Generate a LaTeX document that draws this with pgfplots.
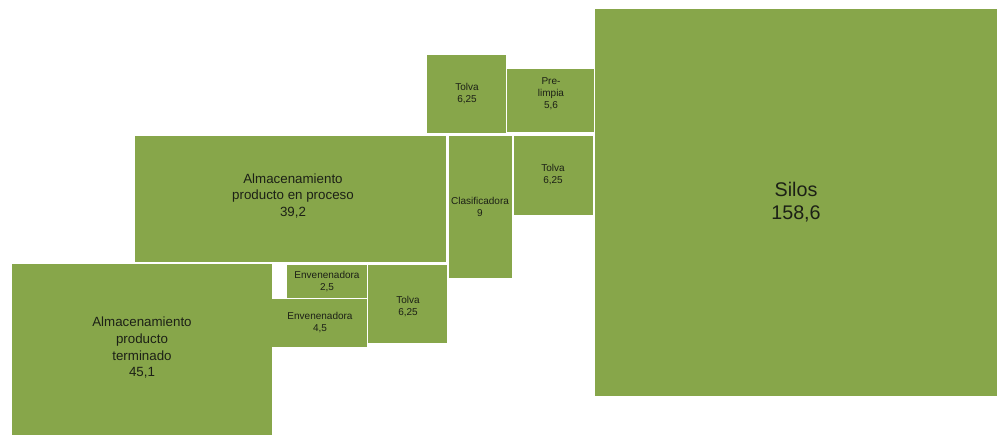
\documentclass[border=0pt]{standalone}
\usepackage{pgfplots}
\pgfplotsset{compat=1.18}
\usepackage{fontspec}
\setmainfont{Liberation Sans}
\definecolor{area}{RGB}{135,166,74}
\definecolor{txt}{RGB}{28,32,22}
\begin{document}
\begin{tikzpicture}
\begin{axis}[
  width=747.75pt, height=326.25pt, scale only axis,
  xmin=0, xmax=997, ymin=0, ymax=435,
  hide axis, clip=false,
]
\path (axis cs:0,0) rectangle (axis cs:997,435);
% Silos
\addplot[fill=area, draw=none] coordinates {(595,426) (997,426) (997,39) (595,39)} -- cycle;
% Tolva (top)
\addplot[fill=area, draw=none] coordinates {(427,380) (506,380) (506,302) (427,302)} -- cycle;
% Pre-limpia
\addplot[fill=area, draw=none] coordinates {(507,366) (594,366) (594,303) (507,303)} -- cycle;
% Almacenamiento producto en proceso
\addplot[fill=area, draw=none] coordinates {(135,299) (446,299) (446,173) (135,173)} -- cycle;
% Clasificadora
\addplot[fill=area, draw=none] coordinates {(449,299) (512,299) (512,157) (449,157)} -- cycle;
% Tolva (middle)
\addplot[fill=area, draw=none] coordinates {(514,299) (593,299) (593,220) (514,220)} -- cycle;
% Almacenamiento producto terminado
\addplot[fill=area, draw=none] coordinates {(12,171) (272,171) (272,0) (12,0)} -- cycle;
% Envenenadora 2,5
\addplot[fill=area, draw=none] coordinates {(287,170) (367,170) (367,137) (287,137)} -- cycle;
% Envenenadora 4,5
\addplot[fill=area, draw=none] coordinates {(272,136) (367,136) (367,88) (272,88)} -- cycle;
% Tolva (bottom)
\addplot[fill=area, draw=none] coordinates {(368,170) (447,170) (447,92) (368,92)} -- cycle;

\begin{scope}[every node/.style={align=center, text=txt, inner sep=0pt}]
\node[font=\fontsize{14.8}{17.25}\selectfont] at (axis cs:796,233) {Silos\\158,6};
\node[font=\fontsize{10}{12.5}\selectfont] at (axis cs:293,239) {Almacenamiento\\producto en proceso\\39,2};
\node[font=\fontsize{10}{12.5}\selectfont] at (axis cs:142,87) {Almacenamiento\\producto\\terminado\\45,1};
\node[font=\fontsize{7.5}{9}\selectfont] at (axis cs:467,341) {Tolva\\6,25};
\node[font=\fontsize{7.5}{9}\selectfont] at (axis cs:551,341) {Pre-\\limpia\\5,6};
\node[font=\fontsize{7.5}{9}\selectfont] at (axis cs:480,228) {Clasificadora\\9};
\node[font=\fontsize{7.5}{9}\selectfont] at (axis cs:553,260) {Tolva\\6,25};
\node[font=\fontsize{7.5}{9}\selectfont] at (axis cs:327,153) {Envenenadora\\2,5};
\node[font=\fontsize{7.5}{9}\selectfont] at (axis cs:320,112) {Envenenadora\\4,5};
\node[font=\fontsize{7.5}{9}\selectfont] at (axis cs:408,128) {Tolva\\6,25};
\end{scope}
\end{axis}
\end{tikzpicture}
\end{document}
